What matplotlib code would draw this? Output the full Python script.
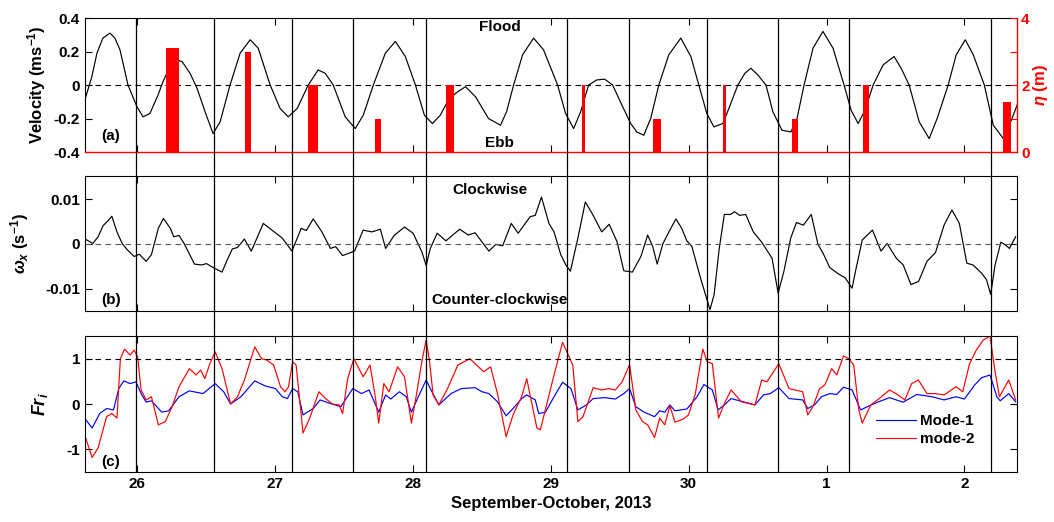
import numpy as np
import matplotlib.pyplot as plt

plt.rcParams['font.family'] = ['Liberation Sans', 'DejaVu Sans']
plt.rcParams['font.weight'] = 'bold'
plt.rcParams['font.size'] = 11
plt.rcParams['axes.unicode_minus'] = False
plt.rcParams['mathtext.fontset'] = 'custom'
plt.rcParams['mathtext.rm'] = 'Liberation Sans:bold'
plt.rcParams['mathtext.bf'] = 'Liberation Sans:bold'
plt.rcParams['mathtext.it'] = 'Liberation Sans:bold:italic'
plt.rcParams['lines.solid_joinstyle'] = 'round'

# time axis: day of September 2013 (31 = 1 October, 32 = 2 October)
vel_t = [25.622, 25.673, 25.710, 25.753, 25.804, 25.840, 25.877, 25.935, 26.000, 26.044,
         26.094, 26.153, 26.189, 26.240, 26.283, 26.327, 26.385, 26.436, 26.494, 26.552,
         26.603, 26.675, 26.748, 26.821, 26.879, 26.966, 27.038, 27.097, 27.162, 27.242,
         27.314, 27.365, 27.423, 27.510, 27.583, 27.641, 27.714, 27.801, 27.874, 27.946,
         28.019, 28.084, 28.142, 28.200, 28.251, 28.309, 28.382, 28.455, 28.549, 28.636,
         28.680, 28.731, 28.796, 28.876, 28.948, 29.050, 29.108, 29.166, 29.217, 29.275,
         29.333, 29.391, 29.449, 29.522, 29.580, 29.624, 29.675, 29.725, 29.784, 29.856,
         29.943, 30.016, 30.074, 30.132, 30.183, 30.248, 30.292, 30.357, 30.408, 30.452,
         30.502, 30.561, 30.611, 30.677, 30.742, 30.786, 30.837, 30.902, 30.974, 31.047,
         31.127, 31.178, 31.229, 31.279, 31.338, 31.410, 31.490, 31.541, 31.599, 31.672,
         31.744, 31.802, 31.882, 31.940, 32.006, 32.064, 32.144, 32.209, 32.282, 32.340,
         32.391]
vel = [-0.09, 0.05, 0.19, 0.28, 0.31, 0.28, 0.21, 0.0, -0.13, -0.19,
       -0.17, -0.06, 0.02, 0.11, 0.15, 0.14, 0.07, -0.02, -0.16, -0.29,
       -0.22, 0.0, 0.19, 0.27, 0.22, 0.0, -0.14, -0.19, -0.14, 0.0,
       0.09, 0.07, 0.0, -0.19, -0.26, -0.18, 0.0, 0.19, 0.26, 0.17,
       0.0, -0.18, -0.23, -0.18, -0.10, -0.05, -0.01, -0.07, -0.20, -0.24,
       -0.16, 0.0, 0.18, 0.28, 0.21, 0.0, -0.17, -0.26, -0.16, 0.0,
       0.03, 0.035, 0.0, -0.13, -0.23, -0.28, -0.30, -0.20, 0.0, 0.18,
       0.28, 0.17, 0.0, -0.17, -0.25, -0.23, -0.14, 0.0, 0.07, 0.10,
       0.06, 0.0, -0.16, -0.27, -0.28, -0.20, 0.0, 0.22, 0.32, 0.22,
       0.0, -0.15, -0.23, -0.15, 0.0, 0.12, 0.17, 0.10, 0.0, -0.22,
       -0.32, -0.20, 0.0, 0.18, 0.27, 0.18, 0.0, -0.24, -0.32, -0.21,
       -0.10]

# tidal range bars (right axis)
bar_t = [26.259, 26.805, 27.275, 27.748, 28.273, 29.237, 29.769, 30.261, 30.771, 31.285, 32.306]
bar_w = [0.092, 0.041, 0.070, 0.044, 0.058, 0.024, 0.058, 0.024, 0.048, 0.039, 0.058]
eta = [3.1, 3.0, 2.0, 1.0, 2.0, 2.0, 1.0, 2.0, 1.0, 2.0, 1.5]

vort_t = [25.625, 25.680, 25.718, 25.755, 25.793, 25.818, 25.855, 25.893, 25.930, 25.980,
          26.017, 26.067, 26.105, 26.155, 26.192, 26.242, 26.267, 26.305, 26.342, 26.417,
          26.467, 26.504, 26.554, 26.617, 26.654, 26.692, 26.729, 26.779, 26.829, 26.916,
          26.979, 27.054, 27.124, 27.191, 27.228, 27.278, 27.341, 27.403, 27.441, 27.491,
          27.553, 27.578, 27.640, 27.703, 27.765, 27.803, 27.865, 27.940, 28.002, 28.065,
          28.097, 28.127, 28.177, 28.240, 28.340, 28.402, 28.452, 28.552, 28.602, 28.652,
          28.714, 28.764, 28.851, 28.888, 28.933, 28.987, 29.024, 29.073, 29.110, 29.143,
          29.197, 29.251, 29.308, 29.370, 29.424, 29.481, 29.530, 29.592, 29.654, 29.703,
          29.740, 29.772, 29.814, 29.864, 29.908, 29.950, 29.987, 30.024, 30.086, 30.130,
          30.155, 30.185, 30.222, 30.259, 30.303, 30.333, 30.370, 30.414, 30.469, 30.530,
          30.605, 30.649, 30.691, 30.740, 30.782, 30.832, 30.889, 30.938, 30.975, 31.024,
          31.086, 31.136, 31.185, 31.210, 31.259, 31.333, 31.395, 31.439, 31.506, 31.556,
          31.612, 31.667, 31.728, 31.790, 31.852, 31.909, 31.963, 32.017, 32.062, 32.123,
          32.160, 32.190, 32.222, 32.264, 32.296, 32.326, 32.371]
vort = [0.0011, 0.0001, 0.0016, 0.0041, 0.0053, 0.0062, 0.0027, 0.0001, -0.0013, -0.0028,
        -0.0023, -0.0039, -0.0024, 0.0035, 0.0057, 0.0035, 0.0016, 0.0019, 0.0001, -0.0045,
        -0.0047, -0.0044, -0.0053, -0.0063, -0.0036, -0.0011, -0.0008, 0.0011, -0.0016, 0.0046,
        0.0031, 0.0013, -0.0016, 0.0035, 0.0030, 0.0056, 0.0027, -0.0010, -0.0006, -0.0026,
        -0.0019, -0.0016, 0.0031, 0.0027, 0.0033, -0.0010, 0.0019, 0.0038, 0.0024, -0.0017,
        -0.0048, -0.0010, 0.0024, 0.0007, 0.0033, 0.0020, 0.0025, -0.0016, -0.0001, -0.0004,
        0.0046, 0.0024, 0.0061, 0.0064, 0.0105, 0.0046, 0.0027, -0.0024, -0.0047, -0.0061,
        0.0013, 0.0094, 0.0064, 0.0027, 0.0044, 0.0005, -0.0060, -0.0063, -0.0028, 0.0020,
        -0.0006, -0.0045, 0.0001, 0.0031, 0.0056, 0.0035, 0.0007, -0.0006, -0.0076, -0.0121,
        -0.0147, -0.0113, -0.0010, 0.0066, 0.0066, 0.0072, 0.0064, 0.0066, 0.0027, 0.0004,
        -0.0032, -0.0110, -0.0061, 0.0013, 0.0048, 0.0042, 0.0066, -0.0001, -0.0021, -0.0053,
        -0.0067, -0.0076, -0.0099, -0.0061, 0.0009, 0.0031, -0.0016, 0.0001, -0.0032, -0.0047,
        -0.0091, -0.0084, -0.0039, -0.0019, 0.0042, 0.0076, 0.0046, -0.0043, -0.0047, -0.0065,
        -0.0080, -0.0113, -0.0047, 0.0004, -0.0002, -0.0010, 0.0016]

fr2_t = [25.625, 25.675, 25.718, 25.780, 25.818, 25.855, 25.880, 25.910, 25.950, 25.980,
         26.005, 26.030, 26.067, 26.105, 26.155, 26.205, 26.255, 26.305, 26.380, 26.429,
         26.462, 26.492, 26.529, 26.567, 26.617, 26.679, 26.729, 26.779, 26.854, 26.904,
         26.941, 26.991, 27.041, 27.074, 27.099, 27.129, 27.154, 27.174, 27.204, 27.253,
         27.319, 27.368, 27.416, 27.466, 27.491, 27.528, 27.573, 27.640, 27.690, 27.728,
         27.753, 27.790, 27.828, 27.890, 27.940, 27.990, 28.028, 28.065, 28.097, 28.122,
         28.147, 28.189, 28.252, 28.327, 28.414, 28.514, 28.564, 28.614, 28.677, 28.727,
         28.789, 28.826, 28.900, 28.925, 29.024, 29.086, 29.123, 29.160, 29.197, 29.234,
         29.308, 29.370, 29.419, 29.469, 29.518, 29.572, 29.617, 29.666, 29.703, 29.753,
         29.790, 29.827, 29.864, 29.901, 29.963, 29.999, 30.049, 30.103, 30.135, 30.172,
         30.217, 30.259, 30.308, 30.382, 30.481, 30.530, 30.568, 30.654, 30.728, 30.827,
         30.864, 30.901, 30.950, 30.988, 31.037, 31.074, 31.123, 31.160, 31.197, 31.234,
         31.259, 31.321, 31.382, 31.457, 31.518, 31.568, 31.617, 31.666, 31.728, 31.790,
         31.852, 31.938, 31.988, 32.037, 32.086, 32.136, 32.185, 32.222, 32.254, 32.321,
         32.371]
fr2 = [-0.72, -1.18, -0.97, -0.28, -0.21, -0.31, 1.00, 1.21, 1.08, 1.19,
       1.04, 0.31, 0.09, 0.16, -0.46, -0.39, -0.06, 0.38, 0.78, 0.64,
       0.75, 0.56, 0.89, 1.15, 0.78, 0.0, 0.16, 0.53, 1.26, 1.00,
       0.97, 0.86, 0.38, 0.27, 0.38, 0.93, 0.86, 0.27, -0.64, -0.31,
       0.27, 0.12, 0.0, -0.02, -0.21, 0.56, 1.00, 0.60, 0.86, 0.16,
       -0.42, 0.45, 0.27, 0.82, 0.60, -0.42, 0.23, 0.93, 1.41, 0.93,
       0.20, -0.02, 0.34, 0.86, 1.00, 0.71, 0.82, 0.23, -0.72, -0.24,
       0.16, 0.56, -0.53, -0.57, 0.64, 1.36, 1.11, 0.86, -0.39, -0.28,
       0.36, 0.31, 0.34, 0.31, 0.49, 0.87, -0.13, -0.39, -0.46, -0.74,
       -0.31, -0.46, -0.04, -0.40, -0.33, -0.24, 0.23, 1.21, 0.93, 0.89,
       -0.31, 0.01, 0.31, 0.05, -0.02, 0.53, 0.49, 0.89, 0.34, 0.27,
       -0.24, -0.06, 0.34, 0.42, 0.78, 0.64, 1.06, 1.00, 0.86, -0.13,
       -0.42, -0.02, 0.12, 0.31, 0.20, 0.09, 0.45, 0.53, 0.23, 0.23,
       0.20, 0.38, 0.27, 0.89, 1.19, 1.41, 1.50, 0.71, 0.16, 0.53,
       0.09]

fr1_t = [25.625, 25.675, 25.730, 25.780, 25.830, 25.868, 25.905, 25.950, 25.993, 26.030,
         26.067, 26.105, 26.180, 26.230, 26.305, 26.380, 26.429, 26.479, 26.567, 26.629,
         26.679, 26.754, 26.854, 26.929, 27.004, 27.054, 27.091, 27.129, 27.166, 27.204,
         27.278, 27.328, 27.403, 27.478, 27.565, 27.628, 27.683, 27.753, 27.803, 27.840,
         27.903, 27.953, 27.990, 28.040, 28.097, 28.127, 28.189, 28.277, 28.352, 28.452,
         28.502, 28.552, 28.614, 28.677, 28.727, 28.790, 28.826, 28.888, 28.913, 28.962,
         29.024, 29.086, 29.147, 29.197, 29.259, 29.308, 29.394, 29.469, 29.530, 29.572,
         29.617, 29.678, 29.753, 29.790, 29.827, 29.864, 29.901, 29.987, 30.061, 30.111,
         30.172, 30.214, 30.259, 30.308, 30.407, 30.481, 30.543, 30.592, 30.654, 30.728,
         30.827, 30.864, 30.913, 30.963, 31.024, 31.074, 31.123, 31.185, 31.247, 31.296,
         31.370, 31.457, 31.555, 31.654, 31.765, 31.852, 31.938, 32.000, 32.074, 32.124,
         32.185, 32.235, 32.259, 32.321, 32.371]
fr1 = [-0.33, -0.53, -0.21, -0.10, -0.13, 0.34, 0.51, 0.45, 0.49, 0.23,
       0.04, 0.07, -0.18, -0.15, 0.16, 0.29, 0.26, 0.23, 0.45, 0.27,
       0.0, 0.16, 0.51, 0.40, 0.34, 0.16, 0.12, 0.34, 0.27, -0.24,
       -0.10, 0.09, 0.01, -0.06, 0.34, 0.23, 0.31, -0.18, 0.20, 0.11,
       0.27, 0.16, -0.18, 0.16, 0.53, 0.34, -0.02, 0.23, 0.34, 0.36,
       0.27, 0.23, 0.05, -0.26, -0.10, 0.12, 0.20, 0.09, -0.21, -0.18,
       0.16, 0.48, 0.34, -0.13, -0.02, 0.12, 0.14, 0.11, 0.23, 0.34,
       -0.06, -0.18, -0.28, -0.15, -0.18, -0.02, -0.15, -0.11, 0.16, 0.43,
       0.31, -0.13, -0.02, 0.12, 0.04, -0.02, 0.20, 0.23, 0.36, 0.12,
       0.09, -0.10, -0.02, 0.16, 0.23, 0.21, 0.37, 0.31, -0.13, -0.06,
       0.04, 0.14, 0.04, 0.21, 0.16, 0.09, 0.16, 0.11, 0.42, 0.58,
       0.64, 0.16, 0.07, 0.23, 0.05]

# vertical reference lines (tidal phase markers)
line_t = [25.991, 26.558, 27.126, 27.566, 28.096, 29.116, 29.570, 30.131, 30.648, 31.165, 32.191]

day_ticks = [26, 27, 28, 29, 30, 31, 32]
day_labels = ['26', '27', '28', '29', '30', '1', '2']
xlim = (25.623, 32.381)

fig = plt.figure(figsize=(10.54, 5.22), dpi=100)
L, W = 0.0806, 0.8843
ax1 = fig.add_axes([L, 0.7088, W, 0.2567])
ax2 = fig.add_axes([L, 0.4042, W, 0.2586])
ax3 = fig.add_axes([L, 0.0958, W, 0.2605])

for ax in (ax1, ax2, ax3):
    ax.set_xlim(xlim)
    ax.set_xticks(day_ticks)
    ax.tick_params(direction='in', top=True, right=True, length=5, width=0.8,
                   labelsize=11)
    for s in ax.spines.values():
        s.set_linewidth(0.8)

# (a) velocity + tidal range
ax1.plot(vel_t, vel, color='k', lw=0.85)
ax1.axhline(0, color='k', ls=(0, (5, 4)), lw=0.8)
ax1.set_ylim(-0.4, 0.4)
ax1.set_yticks([-0.4, -0.2, 0, 0.2, 0.4])
ax1.set_yticklabels(['-0.4', '-0.2', '0', '0.2', '0.4'])
ax1.set_xticklabels([])
ax1.tick_params(right=False)
ax1.set_ylabel(r'Velocity (ms$^{-1}$)', fontsize=12, fontweight='bold', labelpad=4)
ax1.spines['bottom'].set_visible(False)
ax1.spines['right'].set_visible(False)

axr = ax1.twinx()
axr.bar(bar_t, eta, width=bar_w, color='red', align='center')
axr.set_ylim(0, 4)
axr.set_yticks([0, 1, 2, 3, 4])
axr.set_yticklabels(['0', '', '2', '', '4'])
axr.tick_params(direction='in', colors='red', length=5, width=0.8, labelsize=11, pad=3)
axr.tick_params(axis='x', bottom=False, top=False)
axr.set_ylabel(r'$\eta$ (m)', color='red', fontsize=12, fontweight='bold', labelpad=1)
for side in ('right', 'bottom'):
    axr.spines[side].set_color('red')
    axr.spines[side].set_linewidth(1.0)
axr.spines['left'].set_visible(False)
axr.spines['top'].set_visible(False)
for lab in axr.get_yticklabels():
    lab.set_fontweight('bold')

ax1.text(0.445, 0.93, 'Flood', transform=ax1.transAxes, ha='center', va='center', fontweight='bold')
ax1.text(0.445, 0.07, 'Ebb', transform=ax1.transAxes, ha='center', va='center', fontweight='bold')
ax1.text(0.017, 0.12, '(a)', transform=ax1.transAxes, ha='left', va='center', fontweight='bold')

# (b) vorticity
ax2.plot(vort_t, vort, color='k', lw=0.85)
ax2.axhline(0, color='0.35', ls=(0, (5, 4)), lw=0.8)
ax2.set_ylim(-0.015, 0.0152)
ax2.set_yticks([-0.01, 0, 0.01])
ax2.set_yticklabels(['-0.01', '0', '0.01'])
ax2.set_xticklabels([])
ax2.set_ylabel(r'$\omega_x$ (s$^{-1}$)', fontsize=12, fontweight='bold', labelpad=10)
ax2.text(0.435, 0.90, 'Clockwise', transform=ax2.transAxes, ha='center', va='center', fontweight='bold')
ax2.text(0.445, 0.08, 'Counter-clockwise', transform=ax2.transAxes, ha='center', va='center', fontweight='bold')
ax2.text(0.017, 0.08, '(b)', transform=ax2.transAxes, ha='left', va='center', fontweight='bold')

# (c) Froude numbers
ax3.plot(fr1_t, fr1, color='blue', lw=0.85, label='Mode-1')
ax3.plot(fr2_t, fr2, color='red', lw=0.85, label='mode-2')
ax3.axhline(1, color='k', ls=(0, (5, 4)), lw=0.8)
ax3.set_ylim(-1.5, 1.5)
ax3.set_yticks([-1, 0, 1])
ax3.set_yticklabels(['-1', '0', '1'])
ax3.set_xticklabels(day_labels)
ax3.set_ylabel(r'$Fr_i$', fontsize=13, labelpad=12)
ax3.set_xlabel('September-October, 2013', fontsize=12, fontweight='bold', labelpad=4)
ax3.text(0.017, 0.07, '(c)', transform=ax3.transAxes, ha='left', va='center', fontweight='bold')
ax3.legend(loc='upper left', bbox_to_anchor=(0.842, 0.47), frameon=False, handlelength=2.6,
           handletextpad=0.3, labelspacing=0.25, borderaxespad=0, fontsize=11)

for ax in (ax1, ax2, ax3, axr):
    for lab in ax.get_xticklabels() + ax.get_yticklabels():
        lab.set_fontweight('bold')

# full-height vertical lines through all panels
ov = fig.add_axes([L, 0.0958, W, 0.9655 - 0.0958])
ov.set_xlim(xlim)
ov.set_ylim(0, 1)
ov.axis('off')
ov.patch.set_alpha(0)
for t in line_t:
    ov.axvline(t, color='k', lw=0.9)

fig.savefig('out.png', dpi=100)
